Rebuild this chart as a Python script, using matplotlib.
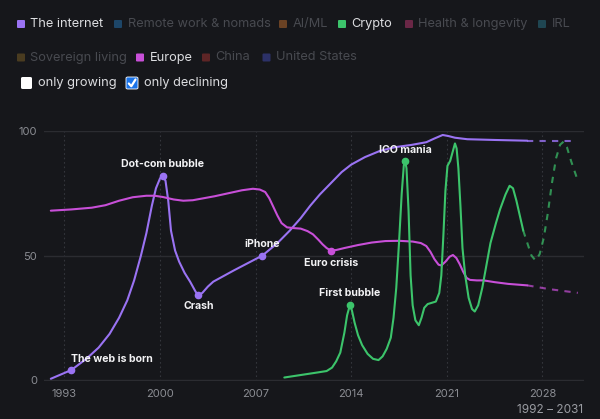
import matplotlib
matplotlib.use('Agg')

import matplotlib.pyplot as plt
from matplotlib.patches import FancyBboxPatch

# ---- data ----
internet_years = [1992.0, 1993.5, 1994.6, 1995.5, 1996.3, 1997.0, 1997.6, 1998.1, 1998.6, 1999.0,
                  1999.4, 1999.7, 2000.0, 2000.2, 2000.4, 2000.6, 2000.8, 2001.1, 2001.4, 2001.8,
                  2002.2, 2002.6, 2002.8, 2003.1, 2003.5, 2003.9, 2005.4, 2007.5, 2008.6, 2009.5,
                  2010.3, 2011.0, 2011.7, 2012.5, 2013.3, 2014.0, 2015.0, 2016.1, 2017.2, 2018.4,
                  2019.5, 2020.1, 2020.7, 2021.1, 2021.6, 2022.5, 2024.5, 2026.9]
internet_values = [0.5, 4, 8.5, 13, 18.5, 25, 32, 40, 50, 59,
                   70, 77, 81, 82, 80, 72, 60, 52, 47.5, 43,
                   39.5, 35.5, 34, 35, 37.5, 39.5, 44, 50, 55, 60,
                   65, 70, 74.5, 79, 83.5, 86.5, 89.5, 92, 93.5, 94.4,
                   95.5, 97, 98.4, 98, 97.3, 96.7, 96.4, 96.1]
internet_proj_years = [2026.9, 2030.3]
internet_proj_values = [96.1, 96.1]

europe_years = [1992.0, 1993.5, 1995.0, 1996.0, 1997.0, 1998.0, 1999.0, 1999.6, 2000.2, 2001.0,
                2001.7, 2002.4, 2003.2, 2004.0, 2005.0, 2006.0, 2006.8, 2007.3, 2007.7, 2008.0,
                2008.3, 2008.6, 2008.9, 2009.3, 2009.8, 2010.3, 2010.8, 2011.2, 2011.6, 2011.9,
                2012.2, 2012.5, 2012.9, 2013.5, 2014.5, 2015.5, 2016.5, 2017.5, 2018.5, 2019.1,
                2019.5, 2019.8, 2020.1, 2020.4, 2020.6, 2020.9, 2021.2, 2021.45, 2021.7, 2021.95,
                2022.2, 2022.45, 2022.7, 2023.2, 2023.7, 2024.5, 2025.5, 2026.9]
europe_values = [68, 68.5, 69.2, 70.2, 72, 73.4, 74, 74, 73.5, 72.5,
                 72, 72.2, 73, 73.8, 75, 76.2, 76.8, 76.5, 75.5, 73,
                 69.5, 66, 63, 61.3, 61, 60.8, 59.8, 58.5, 56.3, 54.5,
                 53, 52, 52.2, 53, 54.2, 55.2, 55.8, 55.9, 55.6, 55,
                 53.8, 51.5, 48.5, 46.3, 46, 47.5, 49.5, 50.2, 49, 46.5,
                 43.5, 41, 40.2, 40, 40, 39.3, 38.6, 38]
europe_proj_years = [2026.9, 2028.5, 2030.6]
europe_proj_values = [38, 36.5, 35]

crypto_years = [2009.1, 2010.3, 2011.5, 2012.2, 2012.6, 2012.9, 2013.2, 2013.5, 2013.7, 2013.9,
                2014.05, 2014.25, 2014.5, 2014.8, 2015.2, 2015.6, 2016.0, 2016.3, 2016.6, 2016.9,
                2017.1, 2017.3, 2017.5, 2017.7, 2017.85, 2017.95, 2018.05, 2018.2, 2018.35, 2018.5,
                2018.7, 2018.95, 2019.15, 2019.35, 2019.6, 2019.9, 2020.2, 2020.45, 2020.6, 2020.75,
                2020.9, 2021.05, 2021.25, 2021.45, 2021.6, 2021.72, 2021.85, 2022.0, 2022.15, 2022.35,
                2022.6, 2022.85, 2023.05, 2023.3, 2023.6, 2023.9, 2024.2, 2024.6, 2024.9, 2025.3,
                2025.6, 2025.85, 2026.1, 2026.35, 2026.6]
crypto_values = [1, 2, 3, 3.6, 5, 7.5, 11, 19, 26, 30,
                 28, 23, 18, 14, 10.5, 8.5, 8, 9.5, 12.5, 17,
                 25, 37, 55, 75, 86, 88, 85, 68, 42, 30,
                 24, 22, 25, 29, 30.5, 31, 31.5, 35, 42, 58,
                 76, 86, 88, 92, 95, 93, 85, 70, 53, 42,
                 33, 28.5, 27.5, 30, 37, 46, 55, 63, 68.5, 74.5,
                 78, 77, 72, 66, 60]
crypto_proj_years = [2026.6, 2026.9, 2027.2, 2027.5, 2027.8, 2028.1, 2028.4, 2028.7, 2029.0, 2029.3,
                     2029.55, 2029.8, 2030.1, 2030.35, 2030.6]
crypto_proj_values = [60, 55, 50, 48, 50.5, 57, 67, 79, 89, 94.5,
                      95.7, 93.5, 88, 84, 80]

# events: (label, series, year, value)
event_labels = ['The web is born', 'Dot-com bubble', 'Crash', 'iPhone', 'Euro crisis', 'First bubble', 'ICO mania']
event_series = ['internet', 'internet', 'internet', 'internet', 'europe', 'crypto', 'crypto']
event_years = [1993.5, 2000.2, 2002.8, 2007.5, 2012.5, 2013.9, 2017.95]
event_values = [4, 82, 34, 50, 52, 30, 88]

legend_row1 = ['The internet', 'Remote work & nomads', 'AI/ML', 'Crypto', 'Health & longevity', 'IRL']
legend_row2 = ['Sovereign living', 'Europe', 'China', 'United States']
x_ticks = [1993, 2000, 2007, 2014, 2021, 2028]
y_ticks = [0, 50, 100]

BG = '#16171b'
PURPLE = '#9a73f3'
GREEN = '#3cc46b'
MAGENTA = '#c84fd8'
series_color = {'internet': PURPLE, 'europe': MAGENTA, 'crypto': GREEN}
legend_colors = {
    'The internet': PURPLE, 'Remote work & nomads': '#1d4668', 'AI/ML': '#6a4224',
    'Crypto': GREEN, 'Health & longevity': '#6a2746', 'IRL': '#1f4652',
    'Sovereign living': '#4a3c20', 'Europe': MAGENTA, 'China': '#5e2526',
    'United States': '#2c3168',
}
active = {'The internet', 'Crypto', 'Europe'}

plt.rcParams['font.family'] = ['Inter', 'DejaVu Sans']

W, H = 600, 419
fig = plt.figure(figsize=(6, 4.19), dpi=100, facecolor=BG)


def fx(x):
    return x / W


def fy(y):
    return 1 - y / H


ax = fig.add_axes([fx(44), fy(381), 540 / W, 250 / H], facecolor=BG)
ax.set_xlim(1991.5, 2031.05)
ax.set_ylim(-0.4, 100)
for s in ax.spines.values():
    s.set_visible(False)

ax.set_xticks(x_ticks)
ax.set_yticks(y_ticks)
ax.tick_params(length=0, labelsize=8, colors='#8b8d93')
ax.tick_params(axis='x', pad=6)
ax.tick_params(axis='y', pad=5)
ax.xaxis.grid(True, color='#34363c', linestyle=(0, (1.5, 2.5)), linewidth=0.8)
ax.yaxis.grid(True, color='#2b2c31', linestyle='-', linewidth=1)
ax.set_axisbelow(True)

line_kw = dict(lw=1.5, solid_capstyle='round', solid_joinstyle='round', clip_on=False)
dash_kw = dict(lw=1.5, linestyle=(0, (3, 3)), dash_joinstyle='round', clip_on=False)

ax.plot(internet_years, internet_values, color=PURPLE, **line_kw)
ax.plot(internet_proj_years, internet_proj_values, color=PURPLE, alpha=0.8, **dash_kw)
ax.plot(europe_years, europe_values, color=MAGENTA, **line_kw)
ax.plot(europe_proj_years, europe_proj_values, color=MAGENTA, alpha=0.7, **dash_kw)
ax.plot(crypto_years, crypto_values, color=GREEN, **line_kw)
ax.plot(crypto_proj_years, crypto_proj_values, color=GREEN, alpha=0.7, **dash_kw)

# event markers + labels
offsets = {
    'The web is born': (0, 11, 'left'),
    'Dot-com bubble': (0, 12, 'center'),
    'Crash': (0, -11, 'center'),
    'iPhone': (0, 12, 'center'),
    'Euro crisis': (0, -12, 'center'),
    'First bubble': (0, 12, 'center'),
    'ICO mania': (0, 11, 'center'),
}
for label, ser, yr, val in zip(event_labels, event_series, event_years, event_values):
    c = series_color[ser]
    ax.plot([yr], [val], 'o', color=c, ms=4.5, mec=c, zorder=4, clip_on=False)
    dx, dy, ha = offsets[label]
    ax.annotate(label, (yr, val), xytext=(dx, dy), textcoords='offset pixels',
                ha=ha, va='center', fontsize=7.6, fontweight='bold', color='#f2f2f4', zorder=5)


# legend rows
def legend_row(names, xs, y):
    for name, x in zip(names, xs):
        col = legend_colors[name]
        on = name in active
        fig.patches.append(FancyBboxPatch((fx(x), fy(y + 4)), 8 / W, 8 / H,
                                          boxstyle='round,pad=0,rounding_size=0.002',
                                          transform=fig.transFigure, facecolor=col, edgecolor='none'))
        fig.text(fx(x + 13.5), fy(y), name, fontsize=9.2, va='center', ha='left',
                 color='#dcdde0' if on else '#484a50')


legend_row(legend_row1, [17, 114, 279, 338, 405, 538], 24)
legend_row(legend_row2, [17, 136, 202, 262.5], 57.5)

# checkboxes
fig.patches.append(FancyBboxPatch((fx(21), fy(89)), 11 / W, 12 / H,
                                  boxstyle='round,pad=0,rounding_size=0.003',
                                  transform=fig.transFigure, facecolor='white', edgecolor='none'))
fig.text(fx(38.5), fy(83.3), 'only growing', fontsize=9.2, va='center', ha='left', color='#dcdde0')
fig.patches.append(FancyBboxPatch((fx(126), fy(89)), 12 / W, 12 / H,
                                  boxstyle='round,pad=0,rounding_size=0.003',
                                  transform=fig.transFigure, facecolor='#1a73e8', edgecolor='white', linewidth=0.6))
fig.lines.append(plt.Line2D([fx(128.8), fx(131.3), fx(135.5)], [fy(83.5), fy(86.2), fy(79.5)],
                            transform=fig.transFigure, color='white', lw=1.6,
                            solid_capstyle='round', solid_joinstyle='round'))
fig.text(fx(143.7), fy(83.3), 'only declining', fontsize=9.2, va='center', ha='left', color='#dcdde0')

fig.text(fx(583), fy(410), '1992 \u2013 2031', fontsize=8.5, va='center', ha='right', color='#9a9ca2')

fig.savefig('out.png', dpi=100, facecolor=BG)
